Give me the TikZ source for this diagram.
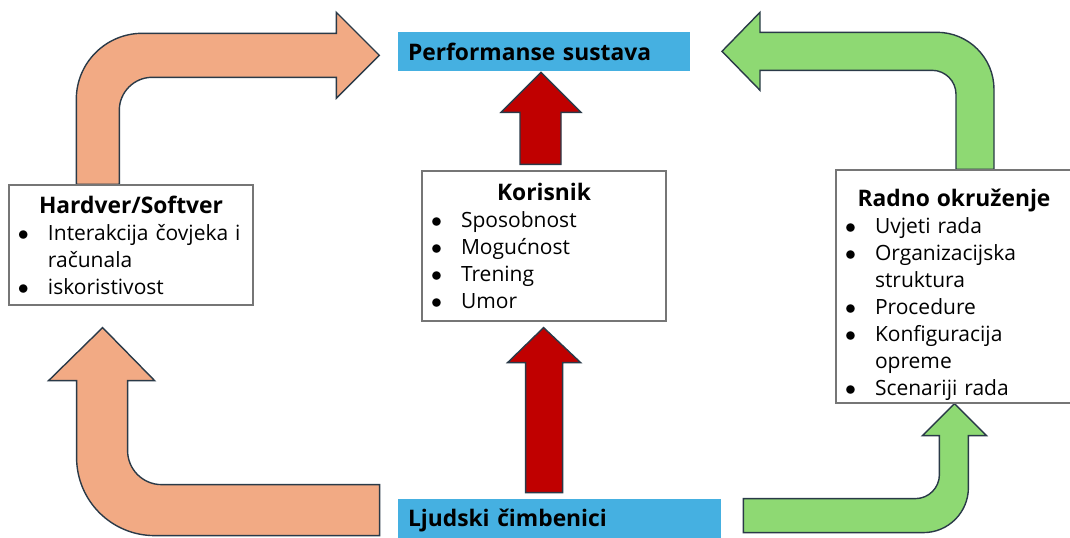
\documentclass[tikz,border=0pt]{standalone}
\usepackage{fontspec}
\setmainfont{Open Sans}
\usetikzlibrary{calc}

\definecolor{perfblue}{HTML}{45B0E1}
\definecolor{hworange}{HTML}{F2AA84}
\definecolor{envgreen}{HTML}{8ED973}
\definecolor{userred}{HTML}{C00000}
\definecolor{arrowedge}{HTML}{2A3A48}
\definecolor{boxgray}{HTML}{767676}

\newcommand{\headfont}{\fontsize{11.4}{13.5}\selectfont\bfseries}
\newcommand{\itemfont}{\fontsize{10.5}{13.5}\selectfont}
\newcommand{\boxhead}[2][0pt]{{\centering\headfont\rule{0pt}{#1}#2\par}}
\newcommand{\bitem}[1]{\hangindent=15.5pt\hangafter=1\noindent\makebox[15.5pt][l]{\hspace{0.5pt}$\bullet$}#1\par}

\pgfdeclarelayer{background}
\pgfsetlayers{background,main}

\tikzset{
  header/.style={fill=perfblue, inner xsep=5pt, inner ysep=0pt, align=left, font=\headfont},
  infobox/.style={draw=boxgray, fill=white, line width=0.7pt, inner xsep=4pt, align=left, font=\itemfont},
  blockarrow/.style={draw=arrowedge, line width=0.7pt, line join=miter},
  orangearrow/.style={blockarrow, fill=hworange},
  greenarrow/.style={blockarrow, fill=envgreen},
  redarrow/.style={blockarrow, fill=userred}
}

\begin{document}
\begin{tikzpicture}[x=0.5pt, y=-0.5pt]
  \useasboundingbox (0,0) rectangle (1070,537);

  % goal and source
  \node[header, text width=136pt, minimum height=19.5pt] (perf) at (544,51.5) {Performanse sustava};
  \node[header, text width=151.5pt, minimum height=21pt] (ljud) at (559.5,520) {Ljudski čimbenici};

  % the three factors
  \node[infobox, text width=114pt, minimum height=60pt] (hw) at (131,245)
    {\boxhead{Hardver/Softver}\bitem{Interakcija čovjeka i\newline računala}\bitem{iskoristivost}};
  \node[infobox, text width=114pt, minimum height=75pt] (kor) at (544,246)
    {\boxhead{Korisnik}\bitem{Sposobnost}\bitem{Mogućnost}\bitem{Trening}\bitem{Umor}};
  \node[infobox, inner ysep=0pt, text width=110pt, minimum height=116.5pt] (radno) at (954,286.5)
    {\boxhead[17pt]{Radno okruženje}\bitem{Uvjeti rada}\bitem{Organizacijska\newline struktura}\bitem{Procedure}\bitem{Konfiguracija\newline opreme}\bitem{Scenariji rada}};

  \begin{pgfonlayer}{background}
    % left side
    \filldraw[orangearrow] ($(ljud.north west)+(-18,-14)$) -- ++(-218,0)
      arc[start angle=270, end angle=180, radius=17pt] -- ++(0,-70) -- ++(27,0)
      -- ++(-52,-53) -- ++(-54,53) -- ++(28,0) -- ++(0,77)
      arc[start angle=180, end angle=270, radius=39pt] -- ++(225,0) -- cycle;
    \filldraw[orangearrow] ($(hw.north west)+(68,0)$) -- ++(0,-85)
      arc[start angle=180, end angle=90, radius=33pt] -- ++(194,0) -- ++(0,-21)
      -- ++(43,43) -- ++(-43,43) -- ++(0,-21) -- ++(-184,0)
      arc[start angle=90, end angle=180, radius=16.5pt] -- ++(0,74) -- cycle;
    % middle
    \filldraw[redarrow] ($(ljud.north west)+(128,-6)$) -- ++(0,-130) -- ++(-18,0)
      -- ++(36,-35) -- ++(37,35) -- ++(-18,0) -- ++(0,130) -- cycle;
    \filldraw[redarrow] ($(kor.north)+(-24,-6)$) -- ++(0,-52) -- ++(-19,0)
      -- ++(40,-40) -- ++(40,40) -- ++(-20,0) -- ++(0,52) -- cycle;
    % right side
    \filldraw[greenarrow] ($(ljud.north east)+(22,0)$) -- ++(172,0)
      arc[start angle=270, end angle=360, radius=12pt] -- ++(0,-39) -- ++(-17,0)
      -- ++(32,-32) -- ++(32,32) -- ++(-18,0) -- ++(0,52)
      arc[start angle=0, end angle=-90, radius=22.5pt] -- ++(-180,0) -- cycle;
    \filldraw[greenarrow] ($(radno.north)+(40,0)$) -- ++(0,-80)
      arc[start angle=0, end angle=90, radius=28.5pt] -- ++(-177,0) -- ++(0,-20)
      -- ++(-38,39) -- ++(38,39) -- ++(0,-20) -- ++(172,0)
      arc[start angle=90, end angle=0, radius=12pt] -- ++(0,75) -- cycle;
  \end{pgfonlayer}
\end{tikzpicture}
\end{document}
